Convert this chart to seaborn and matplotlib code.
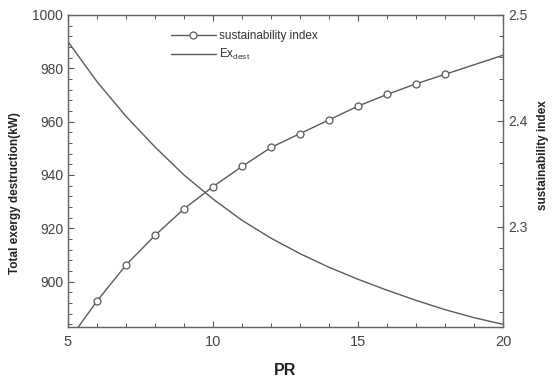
import matplotlib
matplotlib.use("Agg")
import matplotlib.pyplot as plt
from matplotlib.ticker import MultipleLocator, FixedLocator
import seaborn as sns
import pandas as pd

pr = [5, 6, 7, 8, 9, 10, 11, 12, 13, 14, 15, 16, 17, 18, 19, 20]
ex_dest = [990, 975.0, 962.0, 950.5, 940.0, 931.0, 923.0, 916.3, 910.5,
           905.4, 900.9, 896.8, 893.0, 889.5, 886.5, 884.0]
sust_index = [2.192, 2.230, 2.264, 2.292, 2.317, 2.338, 2.357, 2.375, 2.388,
              2.401, 2.414, 2.425, 2.435, 2.444, 2.453, 2.462]
marker_idx = list(range(1, 14))  # markers shown at PR 6..18

df = pd.DataFrame({"PR": pr, "ex": ex_dest, "si": sust_index})

sns.set_style("ticks")
plt.rcParams["font.family"] = ["Liberation Sans", "DejaVu Sans"]
plt.rcParams["mathtext.fontset"] = "custom"
plt.rcParams["mathtext.rm"] = "Liberation Sans"
plt.rcParams["mathtext.it"] = "Liberation Sans"
plt.rcParams["xtick.minor.visible"] = True
plt.rcParams["ytick.minor.visible"] = True

fig = plt.figure(figsize=(5.56, 3.87), dpi=100)
ax = fig.add_axes([68/556, 1-327/387, 435/556, 312/387])
ax2 = ax.twinx()

col = "#5a5a5a"
sns.lineplot(data=df, x="PR", y="ex", ax=ax, color=col, lw=1.0, legend=False)
sns.lineplot(data=df, x="PR", y="si", ax=ax2, color=col, lw=1.0, marker="o",
             markevery=marker_idx, markersize=5, markerfacecolor="white",
             markeredgecolor=col, markeredgewidth=0.9, legend=False)

ax.set_xlim(5, 20)
ax.set_ylim(883, 1000)
ax2.set_ylim(2.2055, 2.5)

ax.xaxis.set_major_locator(FixedLocator([5, 10, 15, 20]))
ax.xaxis.set_minor_locator(MultipleLocator(1))
ax.yaxis.set_major_locator(FixedLocator([900, 920, 940, 960, 980, 1000]))
ax.yaxis.set_minor_locator(MultipleLocator(4))
ax2.yaxis.set_major_locator(FixedLocator([2.3, 2.4, 2.5]))
ax2.yaxis.set_minor_locator(MultipleLocator(0.02))

tc = "#555555"
ax.tick_params(axis="x", which="both", direction="in", top=True, bottom=True,
               colors=tc, labelsize=10.5, labelcolor="#444444", pad=6)
ax.tick_params(axis="y", which="both", direction="in", left=True, right=False,
               colors=tc, labelsize=10, labelcolor="#444444")
ax2.tick_params(axis="y", which="both", direction="in", right=True, left=False,
                colors=tc, labelsize=10, labelcolor="#444444")
ax2.tick_params(axis="x", which="both", bottom=False, top=False)
for a in (ax, ax2):
    a.tick_params(which="major", length=4.5, width=0.8)
    a.tick_params(which="minor", length=3, width=0.7)
    for s in a.spines.values():
        s.set_color("#666666")
        s.set_linewidth(0.9)

ax.set_xlabel("PR", fontsize=11.5, fontweight="bold", color="#222222", labelpad=10)
ax.set_ylabel("Total exergy destruction(kW)", fontsize=8.5, fontweight="bold",
              color="#222222")
ax2.set_ylabel("sustainability index", fontsize=8.5, fontweight="bold",
               color="#222222")
ax.yaxis.set_label_coords(-0.108, 0.43)
ax2.yaxis.set_label_coords(1.078, 0.55)

h1 = ax2.get_lines()[0]
h2 = ax.get_lines()[0]
leg = ax.legend([h1, h2], ["sustainability index", r"Ex$_{\mathregular{dest}}$"],
                loc="upper left", bbox_to_anchor=(0.22, 0.975), frameon=False,
                fontsize=8.5, handlelength=3.8, handletextpad=0.3,
                labelspacing=0.45, borderaxespad=0.2)
for t in leg.get_texts():
    t.set_color("#333333")

fig.savefig("out.png", dpi=100)
